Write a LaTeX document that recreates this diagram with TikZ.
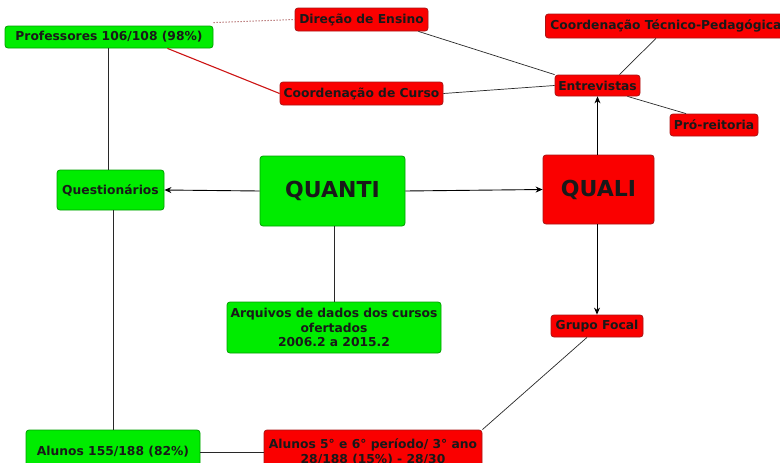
\documentclass[tikz,border=0pt]{standalone}
\usepackage{fontspec}
\setmainfont{DejaVu Sans}
\usetikzlibrary{arrows.meta}
\definecolor{gfill}{RGB}{0,236,0}
\definecolor{gdraw}{RGB}{0,160,0}
\definecolor{rfill}{RGB}{250,0,0}
\definecolor{rdraw}{RGB}{170,20,20}
\definecolor{lnk}{RGB}{40,40,40}
\definecolor{redline}{RGB}{205,20,20}
\definecolor{dotline}{RGB}{190,130,130}
\tikzset{
  box/.style={rounded corners=3pt, line width=0.8pt, inner sep=2pt, align=center,
    text=black!90, font=\bfseries\fontsize{12.3}{14.5}\selectfont},
  gbox/.style={box, fill=gfill, draw=gdraw},
  rbox/.style={box, fill=rfill, draw=rdraw},
  big/.style={font=\bfseries\fontsize{22}{26}\selectfont},
  link/.style={draw=lnk, line width=0.7pt},
  arr/.style={draw=black, line width=0.9pt, -{Stealth[length=7pt,width=6pt]}}
}
\begin{document}
\begin{tikzpicture}[x=1pt,y=-1pt]
\clip (0,0) rectangle (780,463);
\fill[white] (0,0) rectangle (780,463);
% nodes
\node[gbox, minimum width=208pt, minimum height=22pt] (prof) at (109,37) {Professores 106/108 (98\%)};
\node[rbox, minimum width=133pt, minimum height=23pt] (dir) at (361.5,19.5) {Direção de Ensino};
\node[rbox, minimum width=163pt, minimum height=23pt] (ccur) at (361.5,93.5) {Coordenação de Curso};
\node[rbox, minimum height=24pt, anchor=west, inner xsep=5pt] (ctp) at (545,26) {Coordenação Técnico-Pedagógica};
\node[rbox, minimum width=85pt, minimum height=21pt] (entr) at (597.5,85.5) {Entrevistas};
\node[rbox, minimum width=88pt, minimum height=22pt] (pro) at (714,125) {Pró-reitoria};
\node[gbox, minimum width=107pt, minimum height=40pt] (quest) at (110.5,190) {Questionários};
\node[gbox, big, minimum width=145pt, minimum height=70pt] (quanti) at (332.5,191) {QUANTI};
\node[rbox, big, minimum width=111pt, minimum height=69pt] (quali) at (598.5,189.5) {QUALI};
\node[gbox, minimum width=214pt, minimum height=51pt] (arq) at (334,327.5) {Arquivos de dados dos cursos\\ofertados\\2006.2 a 2015.2};
\node[rbox, minimum width=92pt, minimum height=22pt] (gf) at (597,326) {Grupo Focal};
\node[gbox, minimum width=174pt, minimum height=44pt] (al1) at (113,452) {Alunos 155/188 (82\%)};
\node[rbox, minimum width=218pt, minimum height=44pt] (al2) at (373,452) {Alunos 5° e 6° período/ 3° ano\\28/188 (15\%) - 28/30};
% connectors
\draw[draw=dotline, line width=1pt, dash pattern=on 1.5pt off 1.5pt] ([yshift=3pt]prof.north east) -- (dir.west);
\draw[draw=redline, line width=1.1pt] ([xshift=-46pt]prof.south east) -- (ccur.west);
\draw[link] (prof.south -| 108,0) -- (quest.north -| 108,0);
\draw[link] ([xshift=-10pt]dir.south east) -- (entr.north west);
\draw[link] (ccur.east) -- (entr.west);
\draw[link] ([xshift=22pt]entr.north) -- ([xshift=-10pt]ctp.south);
\draw[link] ([xshift=30pt]entr.south) -- ([xshift=-28pt]pro.north);
\draw[arr] (quali.north -| entr.south) -- (entr.south);
\draw[arr] (quanti.west) -- (quest.east);
\draw[arr] (quanti.east) -- (quali.west);
\draw[link] (quanti.south -| arq.north) -- (arq.north);
\draw[arr] (quali.south -| gf.north) -- (gf.north);
\draw[link] ([xshift=-10pt]gf.south) -- (al2.north east);
\draw[link] (quest.south -| 113,0) -- (al1.north -| 113,0);
\draw[link] (al1.east) -- (al2.west);
\end{tikzpicture}
\end{document}
